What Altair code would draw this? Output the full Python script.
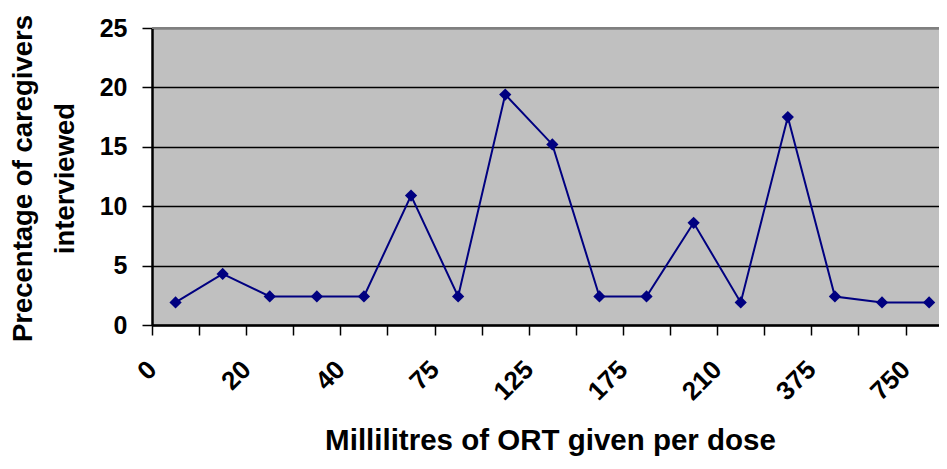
import altair as alt
import pandas as pd
import json

categories = ["0", "10", "20", "30", "40", "50", "75", "100", "125", "150",
              "175", "200", "210", "250", "375", "500", "750"]
percentages = [1.9, 4.3, 2.4, 2.4, 2.4, 10.9, 2.4, 19.4, 15.2, 2.4,
               2.4, 8.6, 1.9, 17.5, 2.4, 1.9, 1.9]

df = pd.DataFrame({
    "idx": list(range(len(categories))),
    "category": categories,
    "pct": percentages,
})

FONT = "Liberation Sans"
NAVY = "#000080"
cats_js = json.dumps(categories)

tick_vals = [-0.5 + k for k in range(len(categories) + 1)]

x_enc = alt.X(
    "idx:Q",
    scale=alt.Scale(domain=[-0.5, 16.21], nice=False, zero=False),
    axis=alt.Axis(
        values=tick_vals,
        labelExpr=f"((datum.value + 0.5) % 2 == 0 && (datum.value + 0.5) < {len(categories)}) ? {cats_js}[datum.value + 0.5] : ''",
        labelAngle=315,
        labelAlign="right",
        labelBaseline="middle",
        labelPadding=30,
        labelOverlap=False,
        labelFlush=False,
        labelFont=FONT,
        labelFontSize=26,
        labelFontWeight="bold",
        labelColor="black",
        tickSize=10,
        tickColor="black",
        tickWidth=1.5,
        domainColor="black",
        domainWidth=2.5,
        grid=False,
        title="Millilitres of ORT given per dose",
        titleFont=FONT,
        titleFontSize=29.5,
        titleFontWeight="bold",
        titleColor="black",
        titleBaseline="alphabetic",
        titleY=124,
        titleX=398,
    ),
)

y_enc = alt.Y(
    "pct:Q",
    scale=alt.Scale(domain=[0, 25], nice=False),
    axis=alt.Axis(
        values=[0, 5, 10, 15, 20, 25],
        labelFont=FONT,
        labelFontSize=25,
        labelFontWeight="bold",
        labelColor="black",
        labelPadding=15,
        tickSize=10,
        tickColor="black",
        tickWidth=1.5,
        domainColor="black",
        domainWidth=2.5,
        grid=True,
        gridColor="black",
        gridWidth=1.5,
        title=["Precentage of caregivers", "interviewed"],
        titleFont=FONT,
        titleFontSize=27.5,
        titleFontWeight="bold",
        titleColor="black",
        titleAngle=270,
        titleAlign="center",
        titleBaseline="alphabetic",
        titleLineHeight=42,
        titleX=-121,
        titleY=150,
    ),
)

base = alt.Chart(df)

top_border = alt.Chart(pd.DataFrame({"v": [25]})).mark_rule(
    color="#808080", strokeWidth=2
).encode(y=alt.Y("v:Q", scale=alt.Scale(domain=[0, 25], nice=False)))

line = base.mark_line(color=NAVY, strokeWidth=2).encode(x=x_enc, y=y_enc)
points = base.mark_point(
    shape="diamond", filled=True, size=150, color=NAVY, opacity=1
).encode(x="idx:Q", y="pct:Q")

chart = alt.layer(line, points, top_border).properties(
    width=787,
    height=297,
    autosize=alt.AutoSizeParams(type="none"),
    padding={"left": 144, "top": 20, "right": 0, "bottom": 132},
    background="white",
).configure_view(
    fill="#C0C0C0",
    stroke=None,
)

chart.save("out.html", embed_options={"renderer": "svg", "actions": False})
